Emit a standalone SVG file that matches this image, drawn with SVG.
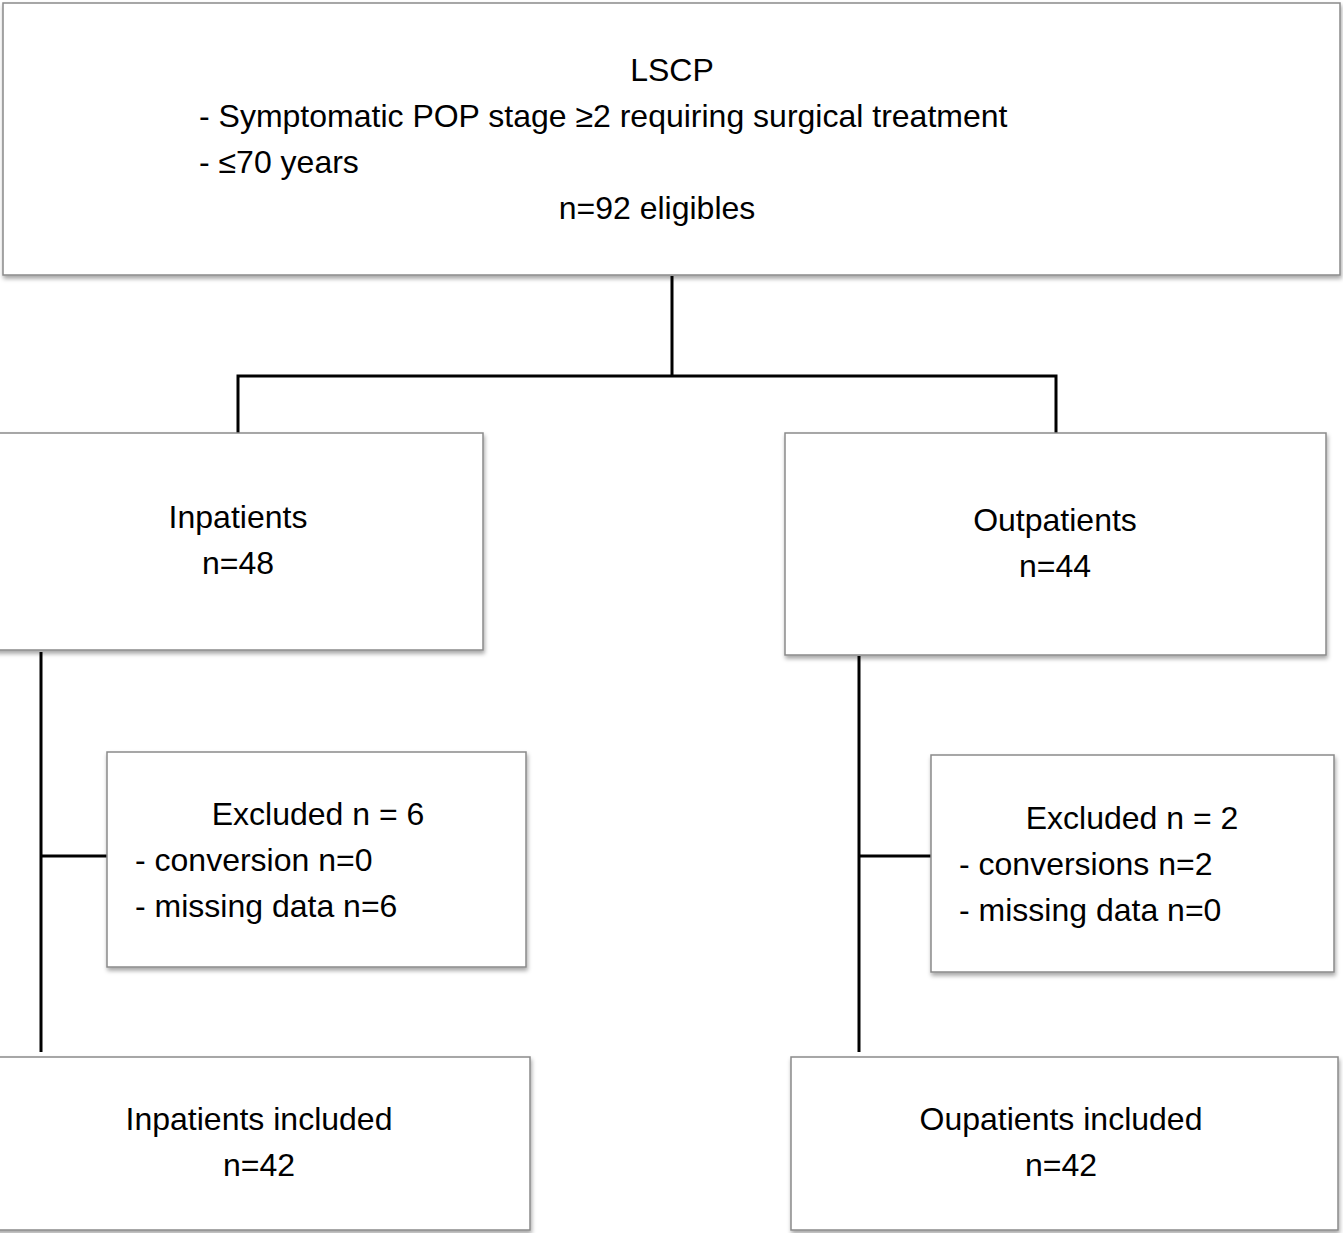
<svg xmlns="http://www.w3.org/2000/svg" width="1343" height="1233" viewBox="0 0 1343 1233">
<defs>
<filter id="sh" x="-5%" y="-5%" width="110%" height="115%">
<feDropShadow dx="1" dy="3" stdDeviation="2" flood-color="#000" flood-opacity="0.35"/>
</filter>
</defs>
<style>
.box{fill:#fff;stroke:#8a8a8a;stroke-width:1.5;filter:url(#sh)}
.t{font-family:"Liberation Sans",Arial,sans-serif;font-size:32px;fill:#000}
.c{text-anchor:middle}
.ln{stroke:#000;stroke-width:3;fill:none}
</style>
<rect width="1343" height="1233" fill="#fff"/>
<g id="connectors">
<path class="ln" d="M672,276 V376 M238,376 H1056 M238,374.5 V433 M1056,374.5 V433"/>
<path class="ln" d="M41,652 V1052 M41,856 H107"/>
<path class="ln" d="M859,656 V1052 M859,856 H931"/>
</g>
<g id="lscp">
<rect class="box" x="3" y="3" width="1337" height="272"/>
<text class="t c" x="672" y="81">LSCP</text>
<text class="t" x="199" y="127">- Symptomatic POP stage ≥2 requiring surgical treatment</text>
<text class="t" x="199" y="173">- ≤70 years</text>
<text class="t c" x="657" y="219">n=92 eligibles</text>
</g>
<g id="inpatients">
<rect class="box" x="-5" y="433" width="488" height="217"/>
<text class="t c" x="238" y="528">Inpatients</text>
<text class="t c" x="238" y="574">n=48</text>
</g>
<g id="outpatients">
<rect class="box" x="785" y="433" width="541" height="222"/>
<text class="t c" x="1055" y="531">Outpatients</text>
<text class="t c" x="1055" y="577">n=44</text>
</g>
<g id="excluded-in">
<rect class="box" x="107" y="752" width="419" height="215"/>
<text class="t c" x="318" y="825">Excluded n = 6</text>
<text class="t" x="135" y="871">- conversion n=0</text>
<text class="t" x="135" y="917">- missing data n=6</text>
</g>
<g id="excluded-out">
<rect class="box" x="931" y="755" width="403" height="217"/>
<text class="t c" x="1132" y="829">Excluded n = 2</text>
<text class="t" x="959" y="875">- conversions n=2</text>
<text class="t" x="959" y="921">- missing data n=0</text>
</g>
<g id="in-included">
<rect class="box" x="-5" y="1057" width="535" height="173"/>
<text class="t c" x="259" y="1130">Inpatients included</text>
<text class="t c" x="259" y="1176">n=42</text>
</g>
<g id="out-included">
<rect class="box" x="791" y="1057" width="547" height="173"/>
<text class="t c" x="1061" y="1130">Oupatients included</text>
<text class="t c" x="1061" y="1176">n=42</text>
</g>
</svg>
